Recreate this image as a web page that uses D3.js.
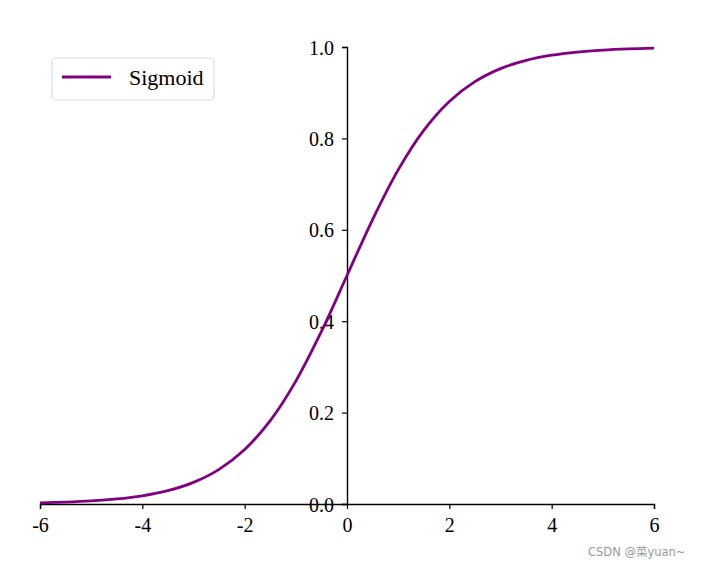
<!DOCTYPE html>
<html><head><meta charset="utf-8">
<script src="https://cdn.jsdelivr.net/npm/d3@7"></script>
<style>body{margin:0;background:#fff}svg{display:block}</style>
</head><body>
<svg id="c" width="706" height="568"></svg>
<script>
const xValues = [-6,-5.5,-5,-4.5,-4,-3.5,-3,-2.5,-2,-1.5,-1,-0.5,0,0.5,1,1.5,2,2.5,3,3.5,4,4.5,5,5.5,6];
const yValues = [0.0025,0.0041,0.0067,0.0110,0.0180,0.0293,0.0474,0.0759,0.1192,0.1824,0.2689,0.3775,0.5,0.6225,0.7311,0.8176,0.8808,0.9241,0.9526,0.9707,0.9820,0.9890,0.9933,0.9959,0.9975];
const xTicks = [-6,-4,-2,0,2,4,6];
const yTicks = [0,0.2,0.4,0.6,0.8,1.0];
const seriesName = "Sigmoid";

const svg = d3.select("#c");
const font = "'Liberation Serif', 'DejaVu Serif', serif";
const x = d3.scaleLinear().domain([-6,6]).range([40,654]);
const y = d3.scaleLinear().domain([0,1]).range([504,47]);

const xAxis = svg.append("g").attr("transform",`translate(0,${y(0)})`)
  .call(d3.axisBottom(x).tickValues(xTicks).tickFormat(d3.format("d")).tickSize(5).tickPadding(9));
const yAxis = svg.append("g").attr("transform",`translate(${x(0)},0)`)
  .call(d3.axisLeft(y).tickValues(yTicks).tickFormat(d3.format(".1f")).tickSize(5).tickPadding(8));
[xAxis,yAxis].forEach(a=>{
  a.select(".domain").attr("stroke","#000").attr("stroke-width",1.4);
  a.selectAll(".tick line").attr("stroke","#000").attr("stroke-width",1.2);
  a.selectAll(".tick text").attr("font-family",font).attr("font-size",20).attr("fill","#000");
});
xAxis.selectAll(".tick text").text(d=>d<0?"-"+Math.abs(d):d);
yAxis.selectAll(".tick text").attr("dy","0.35em");

const pts = xValues.map((v,i)=>[v,yValues[i]]);
svg.append("path").datum(pts)
  .attr("d", d3.line().x(d=>x(d[0])).y(d=>y(d[1])).curve(d3.curveCatmullRom.alpha(0.5)))
  .attr("fill","none").attr("stroke","#800080").attr("stroke-width",2.8);

const lg = svg.append("g");
lg.append("rect").attr("x",52).attr("y",58).attr("width",162).attr("height",42).attr("rx",4)
  .attr("fill","#fff").attr("fill-opacity",0.8).attr("stroke","#ddd").attr("stroke-width",1.2);
lg.append("line").attr("x1",62).attr("x2",111).attr("y1",77).attr("y2",77)
  .attr("stroke","#800080").attr("stroke-width",2.8);
lg.append("text").attr("x",129).attr("y",85).attr("font-family",font).attr("font-size",22).text(seriesName);

svg.append("text").attr("x",588).attr("y",556).attr("font-family","'DejaVu Sans', 'Noto Sans CJK SC', sans-serif")
  .attr("font-size",11.5).attr("fill","#999").text("CSDN @菜yuan~");
</script>
</body></html>
